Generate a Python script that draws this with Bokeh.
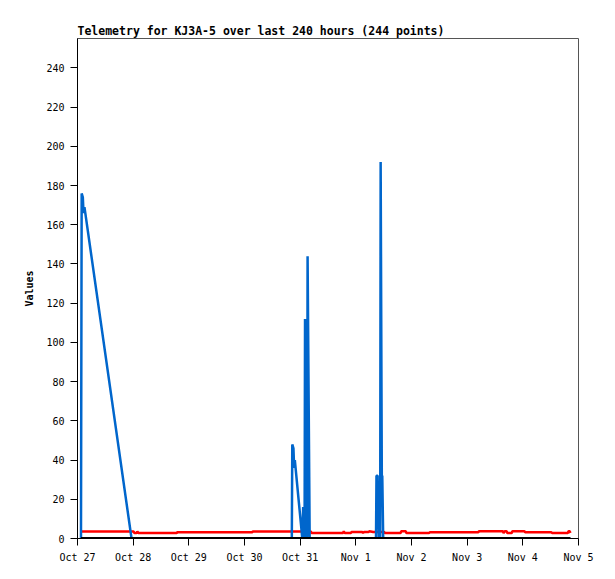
from bokeh.plotting import figure
from bokeh.models import Range1d, FixedTicker
from bokeh.embed import file_html
from bokeh.resources import INLINE

# x values are hours since Oct 27 00:00
tick_hours = [0, 24, 48, 72, 96, 120, 144, 168, 192, 216]
tick_labels = ["Oct 27", "Oct 28", "Oct 29", "Oct 30", "Oct 31",
               "Nov 1", "Nov 2", "Nov 3", "Nov 4", "Nov 5"]
y_ticks = [0, 20, 40, 60, 80, 100, 120, 140, 160, 180, 200, 220, 240]

blue_t = [1.5, 1.8, 2.3, 2.6, 3.0, 23.3,
          92.4, 92.6, 93.1, 93.4, 93.7, 96.6, 96.9, 97.3, 97.6, 97.9, 98.1, 98.5,
          99.0, 99.2, 99.8, 100.1,
          128.7, 128.9, 129.4, 129.6, 129.9, 130.5, 130.7, 131.2, 131.4, 131.8,
          212.5]
blue_v = [0, 176, 174, 166, 169, 0,
          0, 48, 46, 36, 40, 4, 0, 16, 0, 0, 112, 0,
          0, 144, 48, 0,
          0, 32, 32, 18, 0, 0, 192, 32, 32, 0,
          0]

red_t = [1.6, 24.2, 24.5, 25.5, 25.8, 26.2, 42.8, 43.0, 75.4, 75.6,
         100.6, 100.9, 114.5, 114.8, 115.2, 117.9, 118.1, 122.8, 123.1, 123.5,
         125.5, 125.8, 127.5, 132.2, 132.5, 139.3, 139.6, 141.5, 141.8,
         151.6, 151.9, 172.8, 173.1, 183.4, 183.7, 184.2, 185.0, 185.3, 187.2, 187.5,
         192.7, 193.0, 204.3, 204.6, 211.4, 211.7, 212.2, 212.5]
red_v = [3.6, 3.6, 2.8, 2.8, 3.6, 2.8, 2.8, 3.2, 3.2, 3.6,
         3.6, 2.8, 2.8, 3.7, 2.8, 2.8, 3.3, 3.3, 2.8, 3.3,
         3.3, 3.7, 3.3, 3.3, 2.8, 2.8, 3.7, 3.7, 2.8,
         2.8, 3.2, 3.2, 3.7, 3.7, 2.8, 3.7, 3.7, 2.8, 2.8, 3.7,
         3.7, 3.2, 3.2, 2.8, 2.8, 3.7, 3.7, 2.8]

zero_t = [1.5, 212.5]
zero_v = [0, 0]

MONO = "DejaVu Sans Mono"

p = figure(width=608, height=568, output_backend="svg", toolbar_location=None,
           x_range=Range1d(tick_hours[0], tick_hours[-1]),
           y_range=Range1d(0, 255),
           title="Telemetry for KJ3A-5 over last 240 hours (244 points)",
           min_border_left=77, min_border_right=30,
           min_border_top=38, min_border_bottom=30)

p.title.text_font = MONO
p.title.text_font_size = "11.5px"
p.title.text_font_style = "bold"
p.title.text_color = "black"
p.title.align = "left"
p.title.offset = 0
p.title.standoff = 2

p.outline_line_color = "#555555"
p.xgrid.visible = False
p.ygrid.visible = False
p.background_fill_color = "white"
p.border_fill_color = "white"

p.xaxis.ticker = FixedTicker(ticks=tick_hours)
p.xaxis.major_label_overrides = {h: l for h, l in zip(tick_hours, tick_labels)}
p.yaxis.ticker = FixedTicker(ticks=y_ticks)
p.yaxis.axis_label = "Values"

for ax in (p.xaxis[0], p.yaxis[0]):
    ax.axis_line_color = "black"
    ax.axis_line_width = 1
    ax.major_tick_line_color = "black"
    ax.major_tick_out = 7
    ax.major_tick_in = 0
    ax.minor_tick_line_color = None
    ax.major_label_text_font = MONO
    ax.major_label_text_font_size = "10px"
    ax.major_label_text_color = "black"
    ax.major_label_standoff = 6

p.yaxis.axis_label_text_font = MONO
p.yaxis.axis_label_text_font_size = "10px"
p.yaxis.axis_label_text_font_style = "bold"
p.yaxis.axis_label_text_color = "black"
p.yaxis.axis_label_standoff = 8

p.line(red_t, red_v, line_color="#ff0000", line_width=2.5)
p.line(blue_t, blue_v, line_color="#0066cc", line_width=2.5)
p.line(zero_t, zero_v, line_color="#000000", line_width=3)

open("out.html", "w").write(file_html(p, INLINE))
